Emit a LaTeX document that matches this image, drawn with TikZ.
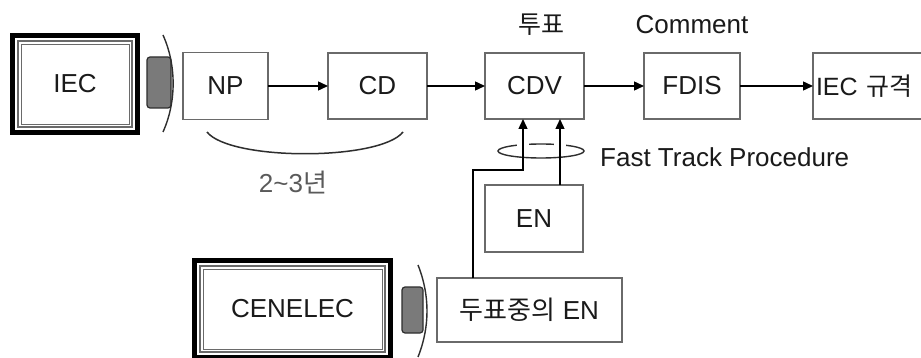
\documentclass[tikz,border=0pt]{standalone}
\usepackage{fontspec}
\setmainfont{Liberation Sans}
\newfontfamily\kr{Noto Sans CJK KR}
\usetikzlibrary{arrows.meta,calc}
\definecolor{boxgray}{HTML}{6A6A6A}
\definecolor{txt}{HTML}{1A1A1A}
\definecolor{plugfill}{HTML}{7A7A7A}
\definecolor{plugdraw}{HTML}{2E2E2E}
\definecolor{lightlbl}{HTML}{5A5A5A}
\begin{document}
\begin{tikzpicture}[x=1pt,y=-1pt,
  box/.style={draw=boxgray,line width=1.6,fill=white,inner sep=0,outer sep=0,
    font=\fontsize{26}{30}\selectfont,text=txt},
  frame/.style={box,draw=black,line width=5},
  inner frame/.style={draw=boxgray,line width=1.8},
  arr/.style={draw=black,line width=1.4,-{Triangle[length=10,width=9]}},
  lbl/.style={font=\fontsize{26}{30}\selectfont,text=txt,inner sep=0},
  plug/.style={fill=plugfill,draw=plugdraw,line width=1.2,rounded corners=3},
  plugarc/.style={draw=plugdraw,line width=1.4},
]
\fill[white] (0,0) rectangle (921,358);
\useasboundingbox (0,0) rectangle (921,358);

% IEC source frame
\node[frame,minimum width=125,minimum height=97] (iec) at (75,84) {IEC};
\draw[inner frame] ($(iec.north west)+(5.5,5.5)$) rectangle ($(iec.south east)+(-5.5,-5.5)$);
\draw[boxgray,line width=0.8] ($(iec.north west)+(8.5,8.5)$) rectangle ($(iec.south east)+(-8.5,-8.5)$);
\draw[plug] (147,57) rectangle (171,108);
\draw[plugarc] (163,35) .. controls (176.5,65) and (176.5,102) .. (163,132);

% CENELEC source frame
\node[frame,minimum width=196,minimum height=97] (cenelec) at (292.5,309) {CENELEC};
\draw[inner frame] ($(cenelec.north west)+(5.5,5.5)$) rectangle ($(cenelec.south east)+(-5.5,-5.5)$);
\draw[boxgray,line width=0.8] ($(cenelec.north west)+(8.5,8.5)$) rectangle ($(cenelec.south east)+(-8.5,-8.5)$);
\draw[plug] (402,287) rectangle (423,333);
\draw[plugarc] (418,265) .. controls (430,295) and (430,327) .. (418,357);

% main chain
\node[box,minimum width=85,minimum height=67] (np) at (225.5,86) {NP};
\node[box,minimum width=99,minimum height=66] (cd) at (377.5,86) {CD};
\node[box,minimum width=99,minimum height=66] (cdv) at (534.5,86) {CDV};
\node[box,minimum width=96,minimum height=66] (fdis) at (692,86) {FDIS};
\node[box,minimum width=127,minimum height=66,text width=121,inner xsep=3,align=left,anchor=west,
  font=\fontsize{25}{30}\selectfont] (std) at (813,86) {IEC {\kr 규격}};

\draw[arr] (np) -- (cd);
\draw[arr] (cd) -- (cdv);
\draw[arr] (cdv) -- (fdis);
\draw[arr] (fdis) -- (std);

% labels above
\node[lbl,font=\kr\fontsize{25}{30}\selectfont] (vote lbl) at (541,25) {투표};
\node[lbl] (comment) at (692,25) {Comment};

% duration arc
\draw[draw=plugdraw,line width=1.5] (207,132) .. controls (230,161) and (380,161) .. (403,132);
\node[lbl,text=lightlbl] (dur) at (293,183) {2\textasciitilde 3{\kr 년}};

% lower boxes
\node[box,minimum width=98,minimum height=67] (en) at (534,218.5) {EN};
\node[box,minimum width=185,minimum height=64] (vote) at (529.5,310) {{\kr 두표중의} EN};

% fast track
\coordinate (bend) at (523,170);
\draw[plugdraw,line width=1.4] (541,151) ellipse [x radius=43,y radius=7];
\draw[white,line width=5] (517,144) -- (529,144) (554,144) -- (566,144);
\draw[arr] ([xshift=-56.5pt]vote.north) |- (bend) -- (bend |- cdv.south);
\draw[arr] ([xshift=26pt]en.north) -- ([xshift=26pt]en.north |- cdv.south);
\node[lbl,anchor=west] (ftp) at (600,157) {Fast Track Procedure};
\end{tikzpicture}
\end{document}
